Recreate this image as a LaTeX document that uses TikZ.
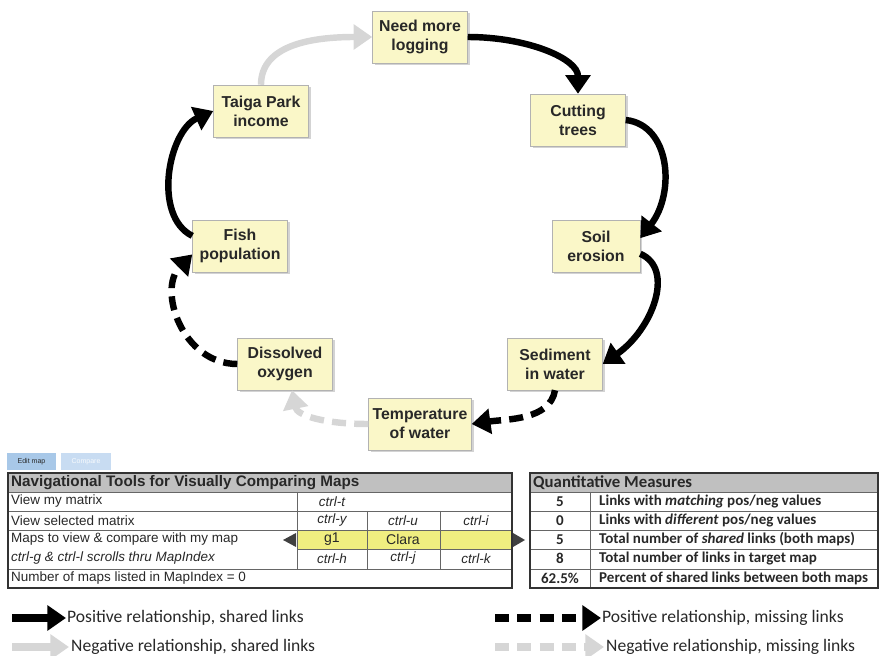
\documentclass[tikz,border=0pt]{standalone}
\usepackage{fontspec}
\setmainfont{Liberation Sans}
\newfontfamily\calibri{Carlito}
\usepackage{xcolor}
\definecolor{boxyellow}{RGB}{250, 247, 200}
\definecolor{linkgray}{RGB}{214, 214, 214}
\definecolor{headgray}{RGB}{192, 192, 192}
\definecolor{rowyellow}{RGB}{240, 238, 128}
\definecolor{txtgray}{RGB}{40, 40, 40}
\definecolor{btnblue}{RGB}{168, 200, 232}
\definecolor{btnfade}{RGB}{200, 220, 242}
\usetikzlibrary{arrows.meta, shadows}

\begin{document}
\begin{tikzpicture}[x=0.03cm, y=-0.03cm,
    concept/.style={draw=gray!60, fill=boxyellow, text=txtgray,
        drop shadow={opacity=0.35, shadow xshift=2pt, shadow yshift=-2pt},
        minimum width=2.85cm, minimum height=1.56cm, align=center, inner sep=2pt,
        font=\fontsize{13.5}{16}\selectfont\bfseries},
    poslink/.style={line width=5.5pt, black, -{Triangle[length=16pt, width=21pt]}},
    neglink/.style={poslink, linkgray},
    misslink/.style={dash pattern=on 12pt off 7pt},
    cell/.style={anchor=west, inner sep=0pt, text=txtgray, font=\fontsize{11.5}{13}\selectfont},
    key/.style={inner sep=0pt, text=txtgray, font=\fontsize{11.5}{13}\selectfont\itshape},
    qcell/.style={inner sep=0pt, text=txtgray, font=\calibri\fontsize{12.8}{14}\selectfont\bfseries},
    legendtxt/.style={anchor=west, inner sep=0pt, text=txtgray, font=\calibri\fontsize{15}{17}\selectfont}]

\useasboundingbox (0,0) rectangle (882,656);

% === Mapa causal ===
\node[concept] (need) at (420,37) {Need more\\logging};
\node[concept] (cut) at (578,120) {Cutting\\trees};
\node[concept, minimum width=2.64cm] (soil) at (596,246) {Soil\\erosion};
\node[concept] (sed) at (555,364) {Sediment\\in water};
\node[concept, minimum width=3.09cm] (temp) at (420,424) {Temperature\\of water};
\node[concept] (oxy) at (285,364) {Dissolved\\oxygen};
\node[concept] (fish) at (240,246) {Fish\\population};
\node[concept] (taiga) at (261,111) {Taiga Park\\income};

% Enlaces
\draw[neglink] (taiga.north) .. controls +(0,-40) and +(-60,0) .. (need.west);
\draw[poslink] (need.east) .. controls +(60,0) and +(0,-35) .. (cut.north);
\draw[poslink] (cut.east) .. controls +(45,5) and +(35,-45) .. (soil.10);
\draw[poslink] (soil.-10) .. controls +(35,15) and +(50,-35) .. (sed.east);
\draw[poslink, misslink] (sed.south) .. controls +(-5,30) and +(35,-5) .. (temp.east);
\draw[neglink, misslink] (temp.west) .. controls +(-45,0) and +(5,25) .. (oxy.-75);
\draw[poslink, misslink] (oxy.west) .. controls +(-55,0) and +(-35,35) .. (fish.190);
\draw[poslink] (fish.168) .. controls +(-40,-20) and +(-45,20) .. (taiga.west);

% === Botones ===
\node[fill=btnblue, minimum width=1.47cm, minimum height=0.51cm, inner sep=0pt,
      font=\fontsize{6}{7}\selectfont, text=txtgray] (edit) at (31.5,461.5) {Edit map};
\node[fill=btnfade, minimum width=1.5cm, minimum height=0.51cm, inner sep=0pt,
      font=\fontsize{6}{7}\selectfont, text=white!85!btnfade] (compare) at (86,461.5) {Compare};

% === Herramientas de navegacion ===
\fill[headgray] (8,473) rectangle (512,492);
\fill[rowyellow] (297,530) rectangle (512,549);
\draw[gray!80!black, line width=0.6pt]
    (8,492) -- (512,492) (8,511) -- (512,511) (8,530) -- (512,530)
    (297,549) -- (512,549) (8,569) -- (512,569)
    (297,492) -- (297,569) (367,511) -- (367,569) (440,511) -- (440,569);
\draw[black!80, line width=1pt] (8,473) rectangle (512,588);
\fill[black!75] (283,540) -- (296,533) -- (296,547) -- cycle;
\fill[black!75] (525,540) -- (513,533) -- (513,547) -- cycle;

\node[cell, font=\fontsize{13}{15}\selectfont\bfseries] (navtitle) at (11,482.5) {Navigational Tools for Visually Comparing Maps};
\node[cell] (rowmine) at (11,501.5) {View my matrix};
\node[cell] (rowsel) at (11,520.5) {View selected matrix};
\node[cell] (rowmaps) at (11,539.5) {Maps to view \& compare with my map};
\node[cell, font=\fontsize{11.5}{13}\selectfont\itshape] (rowscroll) at (11,558.5) {ctrl-g \& ctrl-l scrolls thru MapIndex};
\node[cell] (rowcount) at (11,578.5) {Number of maps listed in MapIndex = 0};
\node[key] (kt) at (332,501.5) {ctrl-t};
\node[key] (ky) at (332,520.5) {ctrl-y};
\node[key] (ku) at (403,520.5) {ctrl-u};
\node[key] (ki) at (476,520.5) {ctrl-i};
\node[key, font=\fontsize{12}{13}\selectfont] (mapg) at (332,539.5) {g1};
\node[key, font=\fontsize{12}{13}\selectfont] (mapclara) at (403,539.5) {Clara};
\node[key] (kh) at (332,558.5) {ctrl-h};
\node[key] (kj) at (403,558.5) {ctrl-j};
\node[key] (kk) at (476,558.5) {ctrl-k};

% === Medidas cuantitativas ===
\fill[headgray] (530,473) rectangle (878,492);
\draw[gray!80!black, line width=0.6pt]
    (530,492) -- (878,492) (530,511) -- (878,511) (530,530) -- (878,530)
    (530,549) -- (878,549) (530,569) -- (878,569) (590,492) -- (590,588);
\draw[black!80, line width=1pt] (530,473) rectangle (878,588);

\node[qcell, anchor=west, font=\calibri\fontsize{14.3}{16}\selectfont\bfseries] (qtitle) at (533,482.5) {Quantitative Measures};
\node[qcell] (qv1) at (560,501.5) {5};
\node[qcell] (qv2) at (560,520.5) {0};
\node[qcell] (qv3) at (560,539.5) {5};
\node[qcell] (qv4) at (560,558.5) {8};
\node[qcell] (qv5) at (560,578.5) {62.5\%};
\node[qcell, anchor=west] (qd1) at (599,501.5) {Links with \textit{matching} pos/neg values};
\node[qcell, anchor=west] (qd2) at (599,520.5) {Links with \textit{different} pos/neg values};
\node[qcell, anchor=west] (qd3) at (599,539.5) {Total number of \textit{shared} links (both maps)};
\node[qcell, anchor=west] (qd4) at (599,558.5) {Total number of links in target map};
\node[qcell, anchor=west] (qd5) at (599,578.5) {Percent of shared links between both maps};

% === Leyenda ===
\coordinate (lgA) at (12,618);  \coordinate (lgB) at (66,618);
\coordinate (lgC) at (12,647);  \coordinate (lgD) at (69,647);
\coordinate (lgE) at (495,618); \coordinate (lgF) at (601,618);
\coordinate (lgG) at (495,647); \coordinate (lgH) at (604,647);
\draw[poslink, line width=6.5pt] (lgA) -- (lgB);
\draw[neglink, line width=6.5pt] (lgC) -- (lgD);
\draw[poslink, misslink, line width=6.5pt] (lgE) -- (lgF);
\draw[neglink, misslink, line width=6.5pt] (lgG) -- (lgH);
\node[legendtxt] (lgpos) at (67,618) {Positive relationship, shared links};
\node[legendtxt] (lgneg) at (71,647) {Negative relationship, shared links};
\node[legendtxt] (lgposm) at (602,618) {Positive relationship, missing links};
\node[legendtxt] (lgnegm) at (606,647) {Negative relationship, missing links};

\end{tikzpicture}
\end{document}
